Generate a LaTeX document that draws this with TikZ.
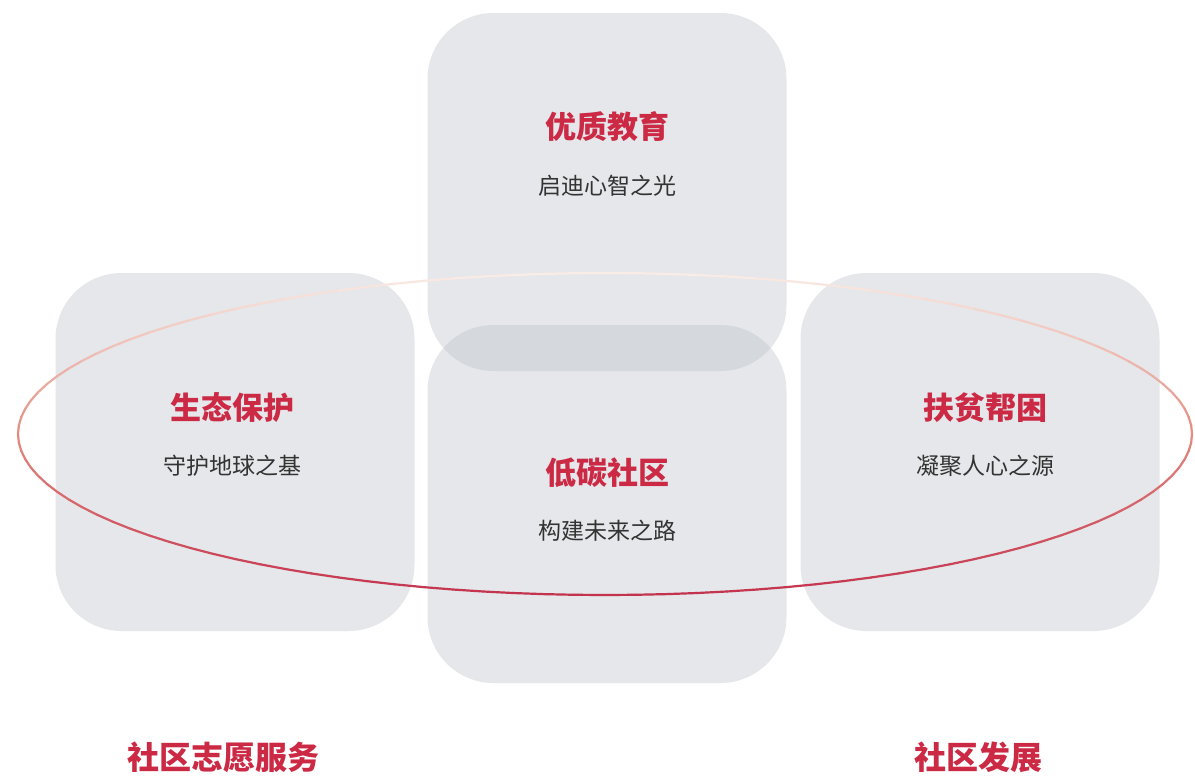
\documentclass[tikz,border=0pt]{standalone}
\usepackage{fontspec}
\setmainfont{Noto Sans CJK SC}
\definecolor{cardgray}{RGB}{190,195,203}
\definecolor{titlered}{RGB}{204,41,69}
\definecolor{subgray}{RGB}{51,51,51}
\definecolor{ringtop}{RGB}{250,236,230}
\definecolor{ringmid}{RGB}{226,140,128}
\definecolor{ringlow}{RGB}{196,50,78}
\begin{document}
\begin{tikzpicture}[x=1pt, y=-1pt,
		card/.style={fill=cardgray, fill opacity=0.4, draw=none, rounded corners=66pt, minimum width=359pt, minimum height=358pt, inner sep=0pt},
		title/.style={text=titlered, font=\fontsize{31}{36}\selectfont\bfseries, inner sep=0pt},
		subtitle/.style={text=subgray, font=\fontsize{23}{28}\selectfont, inner sep=0pt},
		footer/.style={text=titlered, font=\fontsize{32}{38}\selectfont\bfseries, inner sep=0pt},
		ring/.style={line width=2.2pt, line cap=round}]
		\useasboundingbox[fill=white] (0,0) rectangle (1195,777);
		
		% Карточки
		\node[card] (edu) at (607,192) {};
		\node[card] (eco) at (235,452) {};
		\node[card] (low) at (607,504) {};
		\node[card] (aid) at (980,452) {};
		
		% Кольцо
		\foreach \a in {0,3,...,357} {
			\pgfmathsetmacro{\s}{sin(\a+1.5)}
			\pgfmathtruncatemacro{\p}{\s<0 ? 100*(1+\s) : 100*\s}
			\ifdim \s pt<0pt
				\draw[ring, draw=ringmid!\p!ringtop] ({605+587*cos(\a)},{434+161*sin(\a)}) -- ({605+587*cos(\a+3)},{434+161*sin(\a+3)});
			\else
				\draw[ring, draw=ringlow!\p!ringmid] ({605+587*cos(\a)},{434+161*sin(\a)}) -- ({605+587*cos(\a+3)},{434+161*sin(\a+3)});
			\fi
		}
		
		% Тексты
		\node[title] (eduT) at (607,127) {优质教育};
		\node[subtitle] (eduS) at (607,186) {启迪心智之光};
		\node[title] (ecoT) at (232,408) {生态保护};
		\node[subtitle] (ecoS) at (232,466) {守护地球之基};
		\node[title] (lowT) at (607,473) {低碳社区};
		\node[subtitle] (lowS) at (607,531) {构建未来之路};
		\node[title] (aidT) at (985,408) {扶贫帮困};
		\node[subtitle] (aidS) at (985,466) {凝聚人心之源};
		
		\node[footer] (volT) at (223,757) {社区志愿服务};
		\node[footer] (devT) at (978,757) {社区发展};
	\end{tikzpicture}
\end{document}
